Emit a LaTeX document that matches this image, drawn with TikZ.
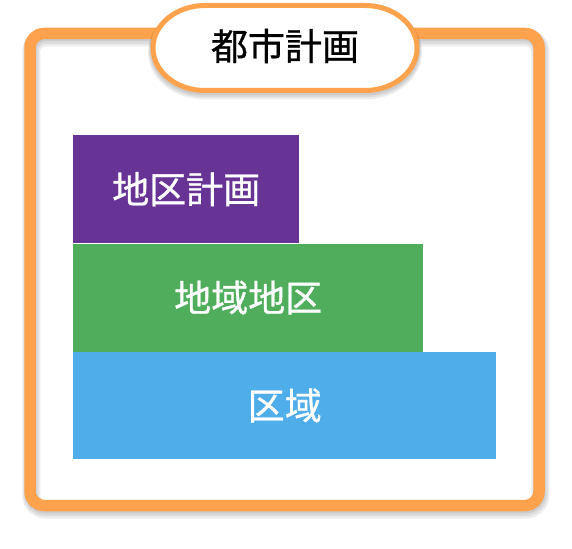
\documentclass[tikz,border=0pt]{standalone}
\usepackage{fontspec}
\setmainfont{Noto Sans CJK JP}
\newfontfamily\labelfont{Noto Sans CJK JP}[FakeBold=0.8]
\usetikzlibrary{calc, positioning}
\definecolor{frameorange}{HTML}{FFA24D}
\definecolor{planpurple}{HTML}{673496}
\definecolor{zonegreen}{HTML}{50AD5C}
\definecolor{areablue}{HTML}{4FADEA}
\newcommand{\pillpath}{++(-80,-42.5) -- ++(160,0)
  arc[start angle=-90, end angle=90, x radius=52, y radius=42.5] -- ++(-160,0)
  arc[start angle=90, end angle=270, x radius=52, y radius=42.5] -- cycle}

\begin{document}
\begin{tikzpicture}[x=1pt, y=-1pt,
  block/.style={rectangle, inner sep=0pt, minimum height=108pt, text=white,
    font=\labelfont\fontsize{37}{40}\selectfont},
  frameline/.style={line width=11.5pt, rounded corners=14pt},
  shadowline/.style={black, opacity=0.07}]
\useasboundingbox (0,0) rectangle (572,548);
% frame and its shadow
\foreach \d/\w in {4/18, 3/15, 2/12} {
  \draw[frameline, shadowline, line width=\w pt] (30+\d/3,33.5+\d) rectangle (539+\d/3,505.5+\d);
}
\draw[frameline, frameorange] (30,33.5) rectangle (539,505.5);
% blocks
\node[block, fill=planpurple, minimum width=226pt, anchor=north west] (plan) at (73,135) {地区計画};
\node[block, fill=zonegreen, minimum width=350pt, below=0pt of plan.south west, anchor=north west] (zone) {地域地区};
\node[block, fill=areablue, minimum width=423pt, minimum height=107pt, below=0pt of zone.south west, anchor=north west] (area) {区域};
% title
\coordinate (tc) at (285,48);
\foreach \d/\w in {4/10, 3/8, 2/6} {
  \draw[shadowline, line width=\w pt] ($(tc)+(0,\d)$) \pillpath;
}
\draw[frameorange, fill=white, line width=5pt] (tc) \pillpath;
\node[font=\labelfont\fontsize{37}{40}\selectfont, inner sep=0pt] (title) at (285,46) {都市計画};
\end{tikzpicture}
\end{document}
